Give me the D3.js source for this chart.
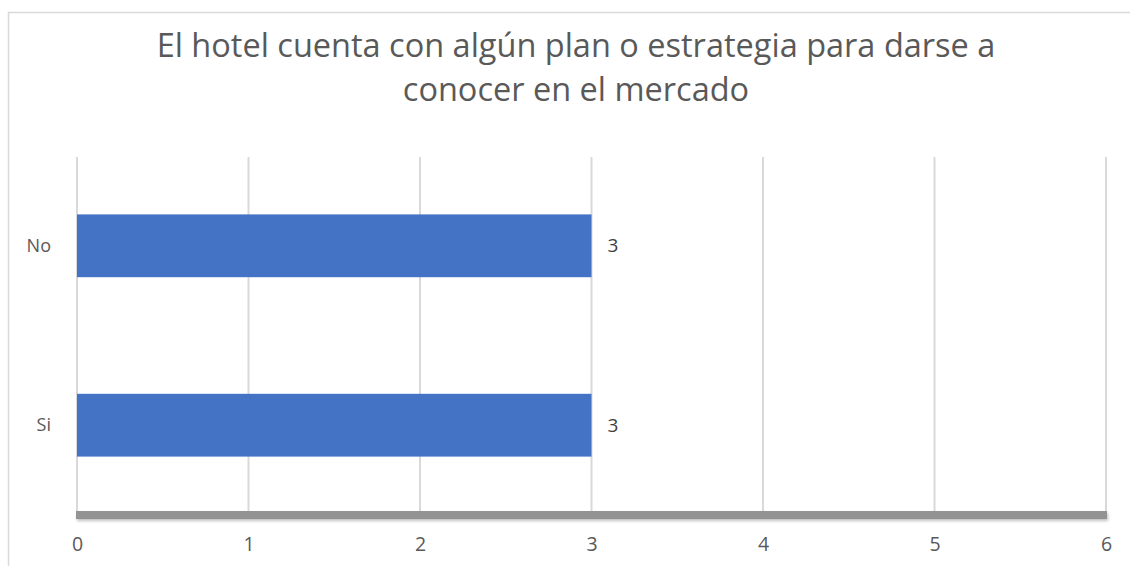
<!DOCTYPE html>
<html>
<head>
<meta charset="utf-8">
<script src="https://cdn.jsdelivr.net/npm/d3@7"></script>
<style>
  body { margin: 0; background: #fff; }
  svg { font-family: "Open Sans", "Noto Sans", sans-serif; }
</style>
</head>
<body>
<svg id="chart" width="1130" height="566"></svg>
<script>
const titleLines = ["El hotel cuenta con algún plan o estrategia para darse a", "conocer en el mercado"];
const categories = ["No", "Si"];
const values = [3, 3];
const xTicks = [0, 1, 2, 3, 4, 5, 6];

const svg = d3.select("#chart");
const textColor = "#595959";

// outer chart frame (only top and left edges visible)
svg.append("rect")
    .attr("x", 8.5).attr("y", 12.5)
    .attr("width", 1140).attr("height", 580)
    .attr("fill", "none")
    .attr("stroke", "#d9d9d9")
    .attr("stroke-width", 1.5);

const margin = { top: 157, left: 77, right: 24, bottom: 52 };
const width = 1130 - margin.left - margin.right;
const height = 566 - margin.top - margin.bottom;

const x = d3.scaleLinear().domain([0, 6]).range([0, width]);
const y = d3.scaleBand().domain(categories).range([0, height]).paddingInner(0.65).paddingOuter(0.32);

const g = svg.append("g").attr("transform", `translate(${margin.left},${margin.top})`);

svg.append("text")
    .attr("x", 576).attr("y", 57)
    .attr("text-anchor", "middle")
    .attr("font-size", 32.5)
    .attr("fill", textColor)
    .selectAll("tspan")
    .data(titleLines)
    .enter()
    .append("tspan")
    .attr("x", 576)
    .attr("dy", (d, i) => i === 0 ? 0 : 44)
    .text(d => d);

// gridlines
g.selectAll(".grid")
    .data(xTicks)
    .enter()
    .append("line")
    .attr("x1", d => x(d)).attr("x2", d => x(d))
    .attr("y1", 0).attr("y2", height)
    .attr("stroke", "#d9d9d9")
    .attr("stroke-width", 2);

// bars
g.selectAll(".bar")
    .data(values)
    .enter()
    .append("rect")
    .attr("x", x(0))
    .attr("y", (d, i) => y(categories[i]))
    .attr("width", d => x(d) - x(0))
    .attr("height", y.bandwidth())
    .attr("fill", "#4472c4");

// value labels
g.selectAll(".val")
    .data(values)
    .enter()
    .append("text")
    .attr("x", d => x(d) + 16)
    .attr("y", (d, i) => y(categories[i]) + y.bandwidth() / 2)
    .attr("dy", "0.35em")
    .attr("font-size", 19)
    .attr("fill", "#404040")
    .text(d => d);

// thick base axis with shadow
const defs = svg.append("defs");
const filter = defs.append("filter").attr("id", "shadow").attr("x", "-5%").attr("y", "-100%").attr("width", "110%").attr("height", "300%");
filter.append("feDropShadow").attr("dx", 1).attr("dy", 2).attr("stdDeviation", 1.5).attr("flood-color", "#000").attr("flood-opacity", 0.25);

g.append("rect")
    .attr("x", x(0) - 1)
    .attr("y", height - 3)
    .attr("width", x(6) - x(0) + 2)
    .attr("height", 8)
    .attr("fill", "#939393")
    .attr("filter", "url(#shadow)");

// x tick labels
g.append("g")
    .attr("transform", `translate(0,${height})`)
    .call(d3.axisBottom(x).tickValues(xTicks).tickSize(0).tickPadding(23).tickFormat(d3.format("d")))
    .call(a => a.select(".domain").remove())
    .call(a => a.selectAll("text").attr("font-size", 19.5).attr("fill", textColor).attr("font-family", "Open Sans, sans-serif"));

// y category labels
g.append("g")
    .call(d3.axisLeft(y).tickSize(0).tickPadding(26))
    .call(a => a.select(".domain").remove())
    .call(a => a.selectAll("text").attr("font-size", 18).attr("fill", textColor).attr("font-family", "Open Sans, sans-serif"));
</script>
</body>
</html>
